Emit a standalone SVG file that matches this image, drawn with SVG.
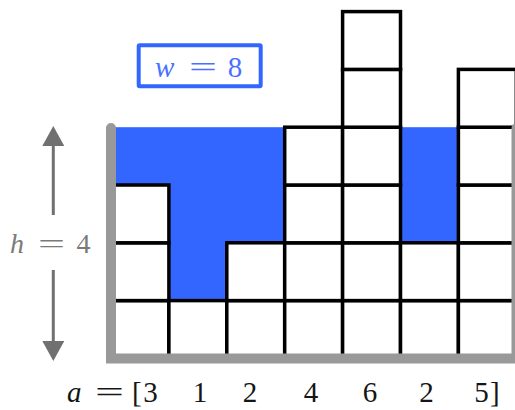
<svg xmlns="http://www.w3.org/2000/svg" width="515" height="410" viewBox="0 0 515 410">
  <style>
    .cell { fill: #ffffff; stroke: #000000; stroke-width: 3.5; }
    .wall { stroke: #999999; stroke-width: 10; fill: none; stroke-linecap: round; }
    .arrow { stroke: #707070; stroke-width: 3; fill: none; }
  </style>
  <defs>
    <marker id="head" viewBox="0 0 20 22" refX="0" refY="11" markerWidth="20" markerHeight="22" markerUnits="userSpaceOnUse" orient="auto">
      <path d="M0,0 L20,11 L0,22 z" fill="#707070"/>
    </marker>
  </defs>
  <rect width="515" height="410" fill="#ffffff"/>

  <!-- water -->
  <g id="water">
    <rect x="111" y="127.2" width="347.4" height="231.2" fill="#3366ff"/>
  </g>

  <!-- columns of blocks -->
  <g id="col1">
    <rect class="cell" x="111" y="300.6" width="57.9" height="57.8"/>
    <rect class="cell" x="111" y="242.8" width="57.9" height="57.8"/>
    <rect class="cell" x="111" y="185" width="57.9" height="57.8"/>
  </g>
  <g id="col2">
    <rect class="cell" x="168.9" y="300.6" width="57.9" height="57.8"/>
  </g>
  <g id="col3">
    <rect class="cell" x="226.8" y="300.6" width="57.9" height="57.8"/>
    <rect class="cell" x="226.8" y="242.8" width="57.9" height="57.8"/>
  </g>
  <g id="col4">
    <rect class="cell" x="284.7" y="300.6" width="57.9" height="57.8"/>
    <rect class="cell" x="284.7" y="242.8" width="57.9" height="57.8"/>
    <rect class="cell" x="284.7" y="185" width="57.9" height="57.8"/>
    <rect class="cell" x="284.7" y="127.2" width="57.9" height="57.8"/>
  </g>
  <g id="col5">
    <rect class="cell" x="342.6" y="300.6" width="57.9" height="57.8"/>
    <rect class="cell" x="342.6" y="242.8" width="57.9" height="57.8"/>
    <rect class="cell" x="342.6" y="185" width="57.9" height="57.8"/>
    <rect class="cell" x="342.6" y="127.2" width="57.9" height="57.8"/>
    <rect class="cell" x="342.6" y="69.4" width="57.9" height="57.8"/>
    <rect class="cell" x="342.6" y="11.6" width="57.9" height="57.8"/>
  </g>
  <g id="col6">
    <rect class="cell" x="400.5" y="300.6" width="57.9" height="57.8"/>
    <rect class="cell" x="400.5" y="242.8" width="57.9" height="57.8"/>
  </g>
  <g id="col7">
    <rect class="cell" x="458.4" y="300.6" width="57.9" height="57.8"/>
    <rect class="cell" x="458.4" y="242.8" width="57.9" height="57.8"/>
    <rect class="cell" x="458.4" y="185" width="57.9" height="57.8"/>
    <rect class="cell" x="458.4" y="127.2" width="57.9" height="57.8"/>
    <rect class="cell" x="458.4" y="69.4" width="57.9" height="57.8"/>
  </g>

  <!-- container walls -->
  <g id="walls">
    <path class="wall" d="M111,128 L111,358.6 L516.5,358.6 L516.5,128"/>
  </g>

  <!-- connectors: height arrow -->
  <g id="connectors">
    <path class="arrow" d="M53.3,215 L53.3,146" marker-end="url(#head)"/>
    <path class="arrow" d="M53.3,270 L53.3,341" marker-end="url(#head)"/>
  </g>

  <g id="label-h" fill="#7a7a7a">
    <text x="10" y="253" font-family="Liberation Serif, serif" font-size="28" font-style="italic">h</text>
    <text x="38" y="253" font-family="Liberation Serif, serif" font-size="28" textLength="27" lengthAdjust="spacingAndGlyphs">=</text>
    <text x="83.5" y="253" font-family="Liberation Serif, serif" font-size="28" text-anchor="middle">4</text>
  </g>

  <g id="label-w" fill="#4a70ff">
    <rect x="138.7" y="45.3" width="122" height="41" rx="1" fill="#ffffff" stroke="#3366ff" stroke-width="4"/>
    <text x="155" y="77" font-family="Liberation Serif, serif" font-size="29" font-style="italic">w</text>
    <text x="189" y="77" font-family="Liberation Serif, serif" font-size="29" textLength="28" lengthAdjust="spacingAndGlyphs">=</text>
    <text x="235" y="77" font-family="Liberation Serif, serif" font-size="29" text-anchor="middle">8</text>
  </g>

  <g id="label-a" fill="#151515">
    <text x="67" y="402" font-family="Liberation Serif, serif" font-size="29" font-style="italic">a</text>
    <text x="95" y="402" font-family="Liberation Serif, serif" font-size="29" textLength="29" lengthAdjust="spacingAndGlyphs">=</text>
    <text x="132" y="402" font-family="Liberation Serif, serif" font-size="29">[</text>
    <text x="150.5" y="402" font-family="Liberation Serif, serif" font-size="29" text-anchor="middle">3</text>
    <text x="200" y="402" font-family="Liberation Serif, serif" font-size="29" text-anchor="middle">1</text>
    <text x="250" y="402" font-family="Liberation Serif, serif" font-size="29" text-anchor="middle">2</text>
    <text x="311" y="402" font-family="Liberation Serif, serif" font-size="29" text-anchor="middle">4</text>
    <text x="370" y="402" font-family="Liberation Serif, serif" font-size="29" text-anchor="middle">6</text>
    <text x="426.5" y="402" font-family="Liberation Serif, serif" font-size="29" text-anchor="middle">2</text>
    <text x="481.5" y="402" font-family="Liberation Serif, serif" font-size="29" text-anchor="middle">5</text>
    <text x="490" y="402" font-family="Liberation Serif, serif" font-size="29">]</text>
  </g>
</svg>
